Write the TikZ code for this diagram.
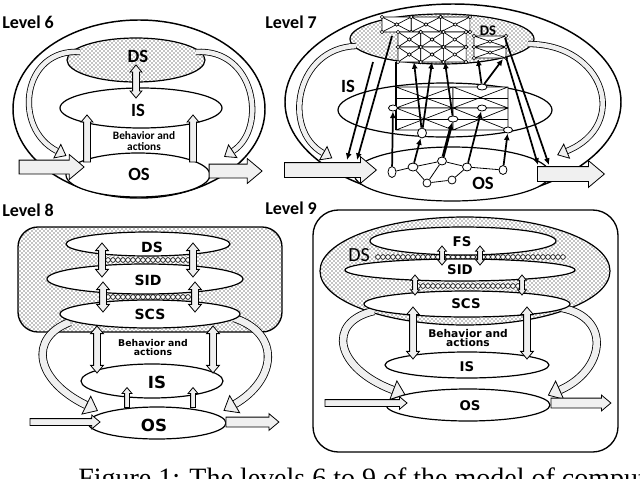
\documentclass[tikz,border=0pt]{standalone}
\usepackage{fontspec}
\setmainfont{Liberation Serif}
\newfontfamily\calfont{Carlito}
\newfontfamily\dvfont{DejaVu Sans}
\usetikzlibrary{arrows.meta, positioning, calc, shapes.geometric, shapes.arrows, patterns}

\tikzset{
  lvl/.style={anchor=west, inner sep=0pt, font=\calfont\bfseries\fontsize{13.5}{14}\selectfont},
  lab/.style={inner sep=0pt, font=\calfont\bfseries\fontsize{14}{14}\selectfont},
  labw/.style={inner sep=0pt, font=\dvfont\bfseries\fontsize{#1}{#1}\selectfont},
  beh6/.style={align=center, inner sep=0pt, font=\calfont\bfseries\fontsize{8.5}{8}\selectfont},
  beh8/.style={align=center, inner sep=0pt, font=\dvfont\bfseries\fontsize{#1}{7.2}\selectfont},
  ell/.style 2 args={ellipse, draw, fill=white, line width=0.9pt, inner sep=0pt,
    minimum width=#1*1.5pt, minimum height=#2*1.5pt},
  dotell/.style 2 args={ell={#1}{#2}, pattern=crosshatch dots},
  fatarr/.style 2 args={single arrow, draw, fill=gray!12, line width=0.6pt, inner xsep=0pt,
    inner ysep=#1*0.375pt, single arrow head extend=#2*0.375pt,
    single arrow tip angle=80, single arrow head indent=0pt},
  dblarr/.style 2 args={double arrow, draw, fill=gray!12, line width=0.6pt, inner xsep=0pt,
    inner ysep=#1*0.375pt, double arrow head extend=#2*0.375pt,
    double arrow tip angle=80, double arrow head indent=0pt},
  band6/.style={line width=0.6pt, double=gray!12, double distance=3.5pt},
  tip6/.style={line width=0.6pt, -{Triangle[length=8pt, width=12.5pt, fill=gray!12]}},
  band8/.style={line width=0.6pt, double=gray!12, double distance=5pt},
  tip8/.style={line width=0.6pt, -{Triangle[length=10pt, width=16pt, fill=gray!12]}},
  mesh/.style={fill=white, line width=0.5pt},
  knot/.style={fill=white, draw, line width=0.45pt},
  link/.style={fill=white, line width=0.5pt},
  mnode/.style 2 args={ellipse, draw, fill=white, line width=0.6pt, inner sep=0pt,
    minimum width=#1*0.75pt, minimum height=#2*0.75pt},
  wire/.style={line width=1.3pt, -{Latex[length=5pt, width=4.5pt]}},
}

% hollow straight arrow between two points
\newcommand{\fatarrow}[3]{%
  \path let \p1=($(#3)-(#2)$) in
    node[#1, rotate={atan2(\y1,\x1)}, minimum height={veclen(\x1,\y1)}] (#2-#3) at ($(#2)!0.5!(#3)$) {};}
% curved band arrow: kind, tip length, start, control, control, end
\newcommand{\bandarrow}[6]{%
  \draw[band#1] (#3) .. controls (#4) and (#5) .. (#6);
  \draw[tip#1] (#6) -- ($(#6)!-#2!(#5)$);}
% mesh cells
\newcommand{\xbox}[4]{\draw[mesh] (#1,#2) rectangle ++(#3,#4) (#1,#2) -- ++(#3,#4) (#1+#3,#2) -- ++(-#3,#4);}
\newcommand{\xcell}[4]{%
  \xbox{#1}{#2}{#3}{#4}
  \foreach \mx/\my in {0/0,1/0,0/1,1/1,0.5/0.5}
    \draw[knot] (#1+\mx*#3,#2+\my*#4) circle[radius=1.8];}
% chain of links between two layers
\newcommand{\chain}[3]{%
  \fill[white] (#1-2.5,#3-2.8) rectangle (#2+2.5,#3+2.8);
  \pgfmathtruncatemacro{\nlinks}{(#2-#1)/5}
  \foreach \k in {0,...,\nlinks} \draw[link] (#1+5*\k,#3) circle[radius=2.4];}

\begin{document}
\begin{tikzpicture}[x=0.75pt, y=-0.75pt]
  \useasboundingbox (0,0) rectangle (640,479);

  % Level 6
  \node[lvl] (lv6) at (2,22) {Level 6};
  \node[ell={126}{89}, line width=1.1pt] (out6) at (139,109) {};
  \node[ell={72}{22}] (os6) at (138,175) {};
  \node[ell={81}{20}] (is6) at (141,108) {};
  \node[dotell={69}{22}] (ds6) at (136,60) {};
  \bandarrow{6}{8pt}{80,52}{22,48}{12,128}{57,151}
  \bandarrow{6}{8pt}{196,52}{255,48}{268,128}{233,151}
  \coordinate (dn6a) at (136,65);  \coordinate (dn6b) at (136,98);
  \coordinate (up6a) at (87,164);  \coordinate (up6b) at (87,117);
  \coordinate (up6c) at (193,164); \coordinate (up6d) at (193,117);
  \coordinate (in6a) at (15,167);  \coordinate (in6b) at (80,167);
  \coordinate (out6a) at (205,171); \coordinate (out6b) at (258,171);
  \fatarrow{dblarr={6}{5}}{dn6a}{dn6b}
  \fatarrow{fatarr={6}{5}}{up6a}{up6b}
  \fatarrow{fatarr={6}{5}}{up6c}{up6d}
  \fatarrow{fatarr={13}{11}}{in6a}{in6b}
  \fatarrow{fatarr={13}{11}}{out6a}{out6b}
  \node[lab] (ds6t) at (138,56) {DS};
  \node[lab] (is6t) at (138,110) {IS};
  \node[lab] (os6t) at (139,174) {OS};
  \node[beh6] (beh6t) at (144,141) {Behavior and\\actions};

  % Level 7
  \node[lvl] (lv7) at (265,22) {Level 7};
  \node[ell={168}{98}, line width=1.1pt] (out7) at (453,102) {};
  \node[ell={98}{27}] (os7) at (452,174) {};
  \node[ell={107}{27}] (is7) at (445,110) {};
  \node[dotell={92}{25}] (ds7) at (442,39) {};
  \bandarrow{6}{8pt}{356,46}{295,48}{282,130}{323,153}
  \bandarrow{6}{8pt}{528,44}{605,44}{630,125}{567,151}
  % grid inside IS
  \xbox{396}{87}{57}{21} \xbox{453}{87}{55}{21}
  \xbox{396}{108}{57}{22} \xbox{453}{108}{55}{22}
  \draw[line width=0.5pt] (396,98) -- (508,98) (396,119) -- (508,119);
  % grid inside DS
  \foreach \cx in {382,411.3,440.6} \xcell{\cx}{17}{29.3}{15};
  \foreach \cx in {398,420.7,443.4} \foreach \cy in {32,47} \xcell{\cx}{\cy}{22.7}{15};
  \foreach \cy in {36,47} \xcell{474}{\cy}{32}{11};
  \draw[line width=1.2pt] (396,62) -- (396,130);
  % network inside OS
  \node[mnode={8}{11}] (o1) at (392,172) {};
  \node[mnode={10}{8}] (o2) at (413,167) {};
  \node[mnode={8}{8}] (o3) at (427,183) {};
  \node[mnode={9}{8}] (o4) at (442,161) {};
  \node[mnode={8}{8}] (o5) at (452,180) {};
  \node[mnode={9}{8}] (o6) at (467,167) {};
  \node[mnode={8}{9}] (o7) at (503,170) {};
  \draw[line width=0.6pt] (o1) -- (o2) -- (o3) -- (o5) -- (o6) -- (o7)
    (o2) -- (o4) -- (o3) (o4) -- (o6);
  \node[mnode={9}{6}] (i1) at (393,108) {};
  \node[mnode={10}{6}] (i2) at (482,87) {};
  \node[mnode={9}{6}] (i3) at (482,108) {};
  \node[mnode={10}{6}] (i4) at (453,119) {};
  \node[mnode={9}{10}] (i5) at (422,133) {};
  \node[mnode={9}{6}] (i6) at (508,130) {};
  \coordinate (d1) at (373,62); \coordinate (d2) at (392,36);
  \coordinate (d3) at (414,62); \coordinate (d4) at (432,62);
  \coordinate (d5) at (445,62); \coordinate (d6) at (478,59);
  \coordinate (d7) at (503,59); \coordinate (d8) at (505,38);
  \coordinate (d9) at (506,57);
  \coordinate (e1) at (347,160); \coordinate (e2) at (357,160);
  \coordinate (e3) at (538,165); \coordinate (e4) at (549,165);
  \draw[wire] (d1) -- (e1);
  \draw[wire] (d2) -- (e2);
  \draw[wire] (d9) -- (e3);
  \draw[wire] (d8) -- (e4);
  \draw[wire] (o1) -- (i1);
  \draw[wire] (o2) -- (i5);
  \draw[wire, line width=2.2pt] (o4) -- (i4);
  \draw[wire] (o6) -- (i3);
  \draw[wire] (o7) -- (i6);
  \draw[wire] (i5) -- (d3);
  \draw[wire] (i5) -- (d4);
  \draw[wire] (i4) -- (d5);
  \draw[wire] (i2) -- (d6);
  \draw[wire] (i2) -- (d7);
  \coordinate (in7a) at (280,170);  \coordinate (in7b) at (372,170);
  \coordinate (out7a) at (533,174); \coordinate (out7b) at (600,174);
  \fatarrow{fatarr={14}{12}}{in7a}{in7b}
  \fatarrow{fatarr={14}{12}}{out7a}{out7b}
  \node[lab] (is7t) at (348,86) {IS};
  \node[lab] (os7t) at (483,183) {OS};
  \node[lab, font=\calfont\bfseries\fontsize{11}{11}\selectfont] (ds7t) at (488,31) {DS};

  % Level 8
  \node[lvl] (lv8) at (2,210) {Level 8};
  \node[draw, rounded corners=15pt, pattern=crosshatch dots, line width=1pt, inner sep=0pt,
    minimum width=264*0.75pt, minimum height=105*0.75pt] (core8) at (150,279.5) {};
  \chain{108}{188}{260}
  \chain{108}{190}{297}
  \node[ell={82}{12}] (ds8) at (148,244) {};
  \node[ell={98}{15}] (sid8) at (145,279) {};
  \node[ell={71}{17}] (is8) at (152,381) {};
  \node[ell={69}{16}] (os8) at (157,423) {};
  \bandarrow{8}{10pt}{70,322}{28,338}{35,380}{86,405}
  \bandarrow{8}{10pt}{234,318}{282,334}{276,380}{235,404}
  \node[ell={90}{14}] (scs8) at (150,314) {};
  \coordinate (a8a) at (102,243); \coordinate (a8b) at (102,277);
  \coordinate (a8c) at (193,243); \coordinate (a8d) at (193,277);
  \coordinate (b8a) at (103,282); \coordinate (b8b) at (103,312);
  \coordinate (b8c) at (195,282); \coordinate (b8d) at (195,312);
  \coordinate (c8a) at (97,326);  \coordinate (c8b) at (97,373);
  \coordinate (c8c) at (213,326); \coordinate (c8d) at (213,373);
  \coordinate (u8a) at (127,409); \coordinate (u8b) at (127,389);
  \coordinate (u8c) at (193,409); \coordinate (u8d) at (193,389);
  \coordinate (in8a) at (28,422);   \coordinate (in8b) at (98,422);
  \coordinate (out8a) at (223,422); \coordinate (out8b) at (276,422);
  \fatarrow{dblarr={6}{6}}{a8a}{a8b}
  \fatarrow{dblarr={6}{6}}{a8c}{a8d}
  \fatarrow{dblarr={6}{6}}{b8a}{b8b}
  \fatarrow{dblarr={6}{6}}{b8c}{b8d}
  \fatarrow{dblarr={6}{6}}{c8a}{c8b}
  \fatarrow{dblarr={6}{6}}{c8c}{c8d}
  \fatarrow{fatarr={4}{5}}{u8a}{u8b}
  \fatarrow{fatarr={4}{5}}{u8c}{u8d}
  \fatarrow{fatarr={6}{7}}{in8a}{in8b}
  \fatarrow{fatarr={9}{7}}{out8a}{out8b}
  \node[labw=10.5] (ds8t) at (152,247) {DS};
  \node[labw=10.5] (sid8t) at (148,280) {SID};
  \node[labw=10.5] (scs8t) at (150,314) {SCS};
  \node[labw=12.5] (is8t) at (157,382) {IS};
  \node[labw=12.5] (os8t) at (154,425) {OS};
  \node[beh8=7] (beh8t) at (153,347.5) {Behavior and\\actions};

  % Level 9
  \node[lvl] (lv9) at (265,208) {Level 9};
  \node[draw, rounded corners=19pt, fill=white, line width=1pt, inner sep=0pt,
    minimum width=305*0.75pt, minimum height=242*0.75pt] (frame9) at (465.5,331) {};
  \node[dotell={145}{54}] (ds9) at (465,271) {};
  \chain{378}{563}{257}
  \chain{418}{520}{286}
  \node[ell={93}{14}] (fs9) at (463,241) {};
  \node[ell={115}{11}] (sid9) at (460,270) {};
  \node[ell={82}{13}] (is9) at (467,365) {};
  \node[ell={82}{16}] (os9) at (468,405) {};
  \bandarrow{8}{10pt}{374,311}{326,322}{335,368}{393,390}
  \bandarrow{8}{10pt}{562,308}{612,318}{605,370}{560,390}
  \node[ell={103}{13}] (scs9) at (467,304) {};
  \coordinate (a9a) at (442,246); \coordinate (a9b) at (442,265);
  \coordinate (a9c) at (480,246); \coordinate (a9d) at (480,265);
  \coordinate (b9a) at (415,275); \coordinate (b9b) at (415,295);
  \coordinate (b9c) at (522,275); \coordinate (b9d) at (522,295);
  \coordinate (c9a) at (413,307); \coordinate (c9b) at (413,359);
  \coordinate (c9c) at (527,307); \coordinate (c9d) at (527,359);
  \coordinate (in9a) at (323,403);  \coordinate (in9b) at (405,403);
  \coordinate (out9a) at (548,403); \coordinate (out9b) at (608,403);
  \fatarrow{dblarr={4}{4}}{a9a}{a9b}
  \fatarrow{dblarr={4}{4}}{a9c}{a9d}
  \fatarrow{dblarr={4}{4}}{b9a}{b9b}
  \fatarrow{dblarr={4}{4}}{b9c}{b9d}
  \fatarrow{dblarr={6}{6}}{c9a}{c9b}
  \fatarrow{dblarr={6}{6}}{c9c}{c9d}
  \fatarrow{fatarr={6}{6}}{in9a}{in9b}
  \fatarrow{fatarr={9}{6}}{out9a}{out9b}
  \node[inner sep=0pt, font=\calfont\fontsize{15}{15}\selectfont] (ds9t) at (359,255) {DS};
  \node[labw=10] (fs9t) at (462,242) {FS};
  \node[labw=10] (sid9t) at (460,270) {SID};
  \node[labw=10] (scs9t) at (466,304) {SCS};
  \node[labw=10] (is9t) at (467,367) {IS};
  \node[labw=10] (os9t) at (470,406) {OS};
  \node[beh8=8] (beh9t) at (468,338) {Behavior and\\actions};

  % caption
  \node[anchor=base west, inner sep=0pt, font=\fontsize{21}{21}\selectfont] (cap) at (78,487)
    {Figure 1: The levels 6 to 9 of the model of computation};
\end{tikzpicture}
\end{document}
